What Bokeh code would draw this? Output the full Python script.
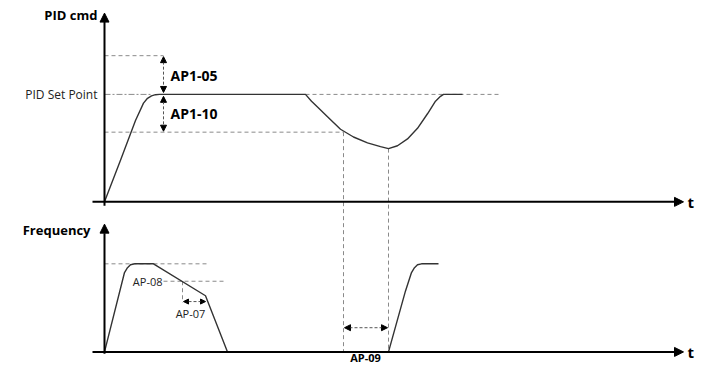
from bokeh.plotting import figure
from bokeh.models import Range1d, Arrow, NormalHead
from bokeh.core.properties import value
from bokeh.embed import file_html
from bokeh.resources import INLINE

# ---- schematic data (diagram units ~ reference pixels) ----
# upper panel: PID command
pid_x = [104, 120, 135, 143, 147, 151, 155, 159, 305, 311, 317, 327, 340, 353, 367, 380, 388, 397, 407, 417, 427, 435, 440, 443, 462]
pid_y = [208, 165, 124, 106, 101, 98.5, 97.3, 97, 97, 104, 110, 120, 133, 141, 147, 151, 153, 150, 143, 132, 117, 104, 99, 97, 97]
# lower panel: frequency
f1_x = [104, 124, 127, 130, 134, 153, 205, 227]
f1_y = [363, 281, 276, 273, 272, 272, 305, 363]
f2_x = [388, 405, 411, 414, 417, 421, 438]
f2_y = [363, 300, 281, 276, 273, 272, 272]

# levels / reference lines
LEVEL_TOP = 57        # setpoint + AP1-05
SETPOINT = 97
LEVEL_LOW = 136       # setpoint - AP1-10
F_MAX = 272
F_AP08 = 290
BASE_TOP = 208
BASE_BOT = 363
T_WAKE = 343
T_MIN = 388

labels_bold = ["PID cmd", "Frequency", "AP1-05", "AP1-10", "t", "t"]
labels_norm = ["PID Set Point", "AP-08", "AP-07"]

p = figure(width=695, height=364, x_range=Range1d(0, 695), y_range=Range1d(376, 0),
           output_backend="svg", toolbar_location=None, x_axis_type=None, y_axis_type=None,
           min_border=0, outline_line_color=None, background_fill_color="white")
p.grid.visible = False

DASH = "4 3"
GREY = "#8a8a8a"
# dashed reference lines
p.line([104, 163], [LEVEL_TOP, LEVEL_TOP], line_color=GREY, line_dash=DASH, line_width=1)
p.line([104, 152], [SETPOINT, SETPOINT], line_color=GREY, line_dash="6 2 2 2", line_width=1)
p.line([305, 500], [SETPOINT, SETPOINT], line_color=GREY, line_dash=DASH, line_width=1)
p.line([104, T_WAKE], [LEVEL_LOW, LEVEL_LOW], line_color=GREY, line_dash=DASH, line_width=1)
p.line([T_WAKE, T_WAKE], [LEVEL_LOW, BASE_BOT], line_color=GREY, line_dash=DASH, line_width=1)
p.line([T_MIN, T_MIN], [153, BASE_BOT], line_color=GREY, line_dash=DASH, line_width=1)
p.line([104, 207], [F_MAX, F_MAX], line_color=GREY, line_dash=DASH, line_width=1)
p.line([163, 223], [F_AP08, F_AP08], line_color=GREY, line_dash=DASH, line_width=1)
p.line([182, 182], [F_AP08, 312], line_color=GREY, line_dash=DASH, line_width=1)

# curves
p.line(pid_x, pid_y, line_color="#333333", line_width=1.4)
p.line(f1_x, f1_y, line_color="#333333", line_width=1.4)
p.line(f2_x, f2_y, line_color="#333333", line_width=1.4)

# axes with arrows
def axis_arrow(x0, y0, x1, y1):
    p.add_layout(Arrow(end=NormalHead(size=9, fill_color="black", line_color="black"),
                       x_start=x0, y_start=y0, x_end=x1, y_end=y1,
                       line_color="black", line_width=2))

axis_arrow(104, BASE_TOP + 4, 104, 13)
axis_arrow(92, BASE_TOP, 683, BASE_TOP)
axis_arrow(104, BASE_BOT + 2, 104, 231)
axis_arrow(92, BASE_BOT, 683, BASE_BOT)

# dashed double arrows
def dim_arrow(x0, y0, x1, y1, size=6):
    p.add_layout(Arrow(start=NormalHead(size=size, fill_color="black", line_color="black"),
                       end=NormalHead(size=size, fill_color="black", line_color="black"),
                       x_start=x0, y_start=y0, x_end=x1, y_end=y1,
                       line_color="#555555", line_width=1, line_dash="3 2"))

dim_arrow(163, LEVEL_TOP + 1, 163, SETPOINT - 2)
dim_arrow(163, SETPOINT + 2, 163, LEVEL_LOW - 1)
dim_arrow(183, 311, 205, 311, 5)
dim_arrow(344, 338, 387, 338)

font = value("Open Sans")
p.text(x=[97, 90, 170, 170, 687, 687], y=[15, 237, 77, 117, BASE_TOP, BASE_BOT],
       text=labels_bold, text_font=font, text_font_style="bold",
       text_font_size=["13px", "13px", "14px", "14px", "15px", "15px"],
       text_align=["right", "right", "left", "left", "left", "left"],
       text_baseline="middle", text_color="black")
p.text(x=[365], y=[368.5], text=["AP-09"], text_font=font, text_font_style="bold",
       text_font_size="11px", text_align="center", text_baseline="middle", text_color="black")
p.text(x=[97, 162, 190], y=[SETPOINT, F_AP08, 323], text=labels_norm, text_font=font,
       text_font_size=["12px", "11px", "11px"], text_align=["right", "right", "center"],
       text_baseline="middle", text_color="#222222")

open("out.html", "w").write(file_html(p, INLINE))
